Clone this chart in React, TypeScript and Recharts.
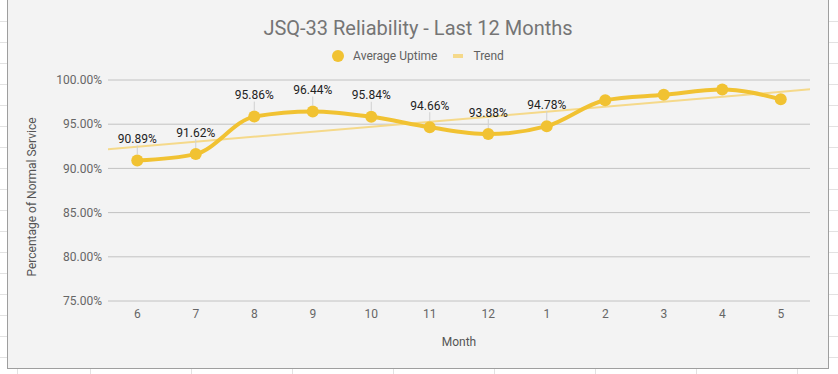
import React from "react";
import { ComposedChart, Line, XAxis, YAxis, CartesianGrid, Legend, LabelList } from "recharts";

// month numbers along the x axis (June through May)
const months = ["6", "7", "8", "9", "10", "11", "12", "1", "2", "3", "4", "5"];
const uptime = [90.89, 91.62, 95.86, 96.44, 95.84, 94.66, 93.88, 94.78, 97.71, 98.32, 98.92, 97.82];
// the sheet only shows labels on the first eight points
const showLabel = [true, true, true, true, true, true, true, true, false, false, false, false];
// linear trend, read at the left and right edges of the plot
const trendPos = [0, 1];
const trendValues = [92.17, 98.95];
const yTicks = [75, 80, 85, 90, 95, 100];

const LINE = "#f1c232";
const TREND = "#f5d98a";

const data = months.map((m, i) => ({ month: m, uptime: uptime[i] }));
const trendData = trendPos.map((t, i) => ({ t, trend: trendValues[i] }));

const renderPointLabel = (props: any) => {
  const { x, y, value, index } = props;
  if (!showLabel[index]) return null;
  return (
    <g>
      <line x1={x} x2={x} y1={y - 15} y2={y - 6} stroke="#d0d0d0" strokeWidth={1} />
      <text x={x} y={y - 17.5} textAnchor="middle" fontSize={12} fill="#222">
        {Number(value).toFixed(2)}%
      </text>
    </g>
  );
};

const renderLegend = () => (
  <div
    style={{
      display: "flex",
      justifyContent: "center",
      alignItems: "center",
      height: 20,
      fontSize: 12,
      color: "#616161",
    }}
  >
    <span style={{ width: 12, height: 12, borderRadius: 6, background: LINE, marginRight: 9 }} />
    <span>Average Uptime</span>
    <span style={{ width: 10, height: 4, background: TREND, marginLeft: 16, marginRight: 10 }} />
    <span>Trend</span>
  </div>
);

export default function App() {
  const rows = Array.from({ length: 17 }, (_, i) => 21 * (i + 1));
  const cols = [17, 90, 191, 292, 393, 494, 595, 696, 797];

  return (
    <div
      style={{
        position: "absolute",
        left: 0,
        top: 0,
        width: 838,
        height: 374,
        background: "#fff",
        overflow: "hidden",
        fontFamily: "Roboto, sans-serif",
      }}
    >
      {/* spreadsheet cells behind the chart */}
      {rows.map((r) => (
        <div key={"r" + r} style={{ position: "absolute", left: 0, top: r, width: 838, height: 1, background: "#e2e2e2" }} />
      ))}
      {cols.map((c) => (
        <div key={"c" + c} style={{ position: "absolute", left: c, top: 0, width: 1, height: 374, background: "#e2e2e2" }} />
      ))}

      <div
        style={{
          position: "absolute",
          left: 7,
          top: -1,
          width: 822,
          height: 370,
          boxSizing: "border-box",
          border: "1px solid #9e9e9e",
          background: "#f3f3f3",
        }}
      >
        <div style={{ position: "relative", width: 820, height: 368 }}>
          <div
            style={{
              position: "absolute",
              left: 0,
              top: 16,
              width: 820,
              textAlign: "center",
              fontSize: 20,
              lineHeight: "24px",
              color: "#757575",
            }}
          >
            JSQ-33 Reliability - Last 12 Months
          </div>

          <ComposedChart width={820} height={368} data={data} margin={{ top: 60, right: 18, left: 0, bottom: 0 }}>
            <CartesianGrid xAxisId="cat" vertical={false} stroke="#c2c2c2" />
            <XAxis
              xAxisId="cat"
              dataKey="month"
              scale="band"
              height={67}
              axisLine={false}
              tickLine={false}
              tick={{ fill: "#666", fontSize: 12 }}
              label={(p: any) => (
                <text x={451} y={346} textAnchor="middle" fontSize={12} fill="#555">
                  Month
                </text>
              )}
            />
            <XAxis xAxisId="trend" type="number" dataKey="t" domain={[0, 1]} allowDataOverflow hide />
            <YAxis
              domain={[75, 100]}
              ticks={yTicks}
              width={100}
              axisLine={false}
              tickLine={false}
              tickSize={6}
              tickMargin={0}
              tick={{ fill: "#666", fontSize: 12 }}
              tickFormatter={(v: number) => v.toFixed(2) + "%"}
              label={(p: any) => (
                <text
                  x={24}
                  y={197}
                  transform="rotate(-90, 24, 197)"
                  textAnchor="middle"
                  dominantBaseline="central"
                  fontSize={12}
                  fill="#555"
                >
                  Percentage of Normal Service
                </text>
              )}
            />
            <Legend verticalAlign="top" content={renderLegend} wrapperStyle={{ top: 46, left: 0, width: 820, height: 20 }} />
            <Line
              xAxisId="trend"
              data={trendData}
              dataKey="trend"
              stroke={TREND}
              strokeWidth={2}
              dot={false}
              activeDot={false}
              isAnimationActive={false}
              legendType="none"
            />
            <Line
              xAxisId="cat"
              type="monotone"
              dataKey="uptime"
              stroke={LINE}
              strokeWidth={4}
              dot={{ r: 6, fill: LINE, stroke: "none" }}
              activeDot={false}
              isAnimationActive={false}
            >
              <LabelList dataKey="uptime" content={renderPointLabel} />
            </Line>
          </ComposedChart>
        </div>
      </div>
    </div>
  );
}
